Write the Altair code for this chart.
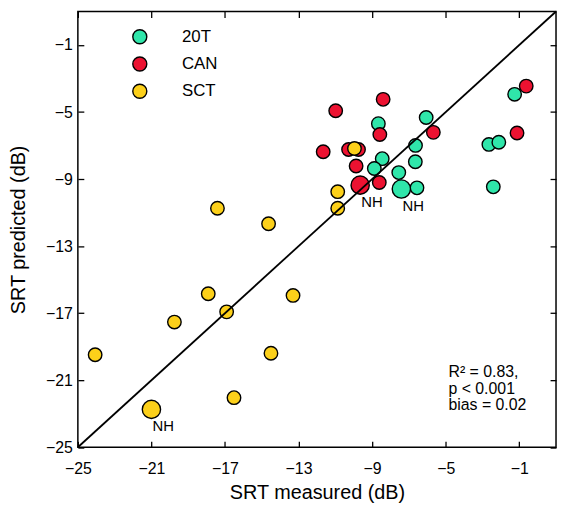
import altair as alt
import pandas as pd

# ---- data ----
legend_names = ["20T", "CAN", "SCT"]
colors = ["#2fe6aa", "#ec1231", "#fcd01a"]

t20_measured = [-6.06, -8.66, -6.64, -8.45, -6.65, -8.88, -7.55, -6.56, -7.41, -1.25, -2.65, -2.11, -2.41]
t20_predicted = [-5.32, -5.69, -6.99, -7.78, -7.96, -8.37, -8.61, -9.52, -9.59, -3.94, -6.93, -6.80, -9.46]
t20_nh = [0, 0, 0, 0, 0, 0, 0, 0, 1, 0, 0, 0, 0]

can_measured = [-0.62, -1.12, -8.40, -10.98, -8.58, -5.67, -11.66, -10.28, -9.74, -9.87, -9.65, -8.61]
can_predicted = [-3.45, -6.25, -4.24, -4.92, -6.34, -6.21, -7.37, -7.23, -7.23, -8.22, -9.36, -9.20]
can_nh = [0, 0, 0, 0, 0, 0, 0, 0, 0, 0, 1, 0]

sct_measured = [-9.96, -10.87, -10.87, -17.41, -14.63, -17.91, -13.30, -16.91, -19.75, -24.06, -14.50, -16.51, -21.00]
sct_predicted = [-7.17, -9.75, -10.74, -10.74, -11.66, -15.84, -15.94, -16.92, -17.53, -19.48, -19.39, -22.04, -22.74]
sct_nh = [0, 0, 0, 0, 0, 0, 0, 0, 0, 0, 0, 0, 1]

diag = [-25, 1]
ticks = [-25, -21, -17, -13, -9, -5, -1]
axis_domain = [-25, 1]

stats_lines = ["R² = 0.83,", "p < 0.001", "bias = 0.02"]
stats_x = [-4.85, -4.85, -4.85]
stats_y = [-20.79, -21.81, -22.80]

# ---- tables ----
df = pd.DataFrame({
    "group": ["20T"] * len(t20_measured) + ["CAN"] * len(can_measured) + ["SCT"] * len(sct_measured),
    "measured": t20_measured + can_measured + sct_measured,
    "predicted": t20_predicted + can_predicted + sct_predicted,
    "nh": t20_nh + can_nh + sct_nh,
})
df_nh = df[df["nh"] == 1]
df_diag = pd.DataFrame({"d": diag})
df_stats = pd.DataFrame({"line": stats_lines, "sx": stats_x, "sy": stats_y})

FONT = "Liberation Sans"
xs = alt.Scale(domain=axis_domain, nice=False, zero=False)
ys = alt.Scale(domain=axis_domain, nice=False, zero=False)

def tick_axis(orient):
    return alt.Axis(orient=orient, values=ticks, offset=-6, tickSize=6, tickWidth=1.3,
                    tickColor="black", labels=False, domain=False, grid=False, title=None)

points = alt.Chart(df).mark_circle(stroke="black", strokeWidth=1.4, opacity=1).encode(
    x=alt.X("measured:Q", scale=xs,
            axis=alt.Axis(orient="bottom", values=ticks, offset=-6, tickSize=6, tickWidth=1.3,
                          tickColor="black", domain=False, grid=False, labelFlush=False,
                          labelPadding=13, labelFontSize=16, labelFont=FONT, labelColor="black",
                          title="SRT measured (dB)", titleFontSize=20, titleFont=FONT,
                          titleFontWeight="normal", titleColor="black", titlePadding=7)),
    y=alt.Y("predicted:Q", scale=ys,
            axis=alt.Axis(orient="left", values=ticks, offset=-6, tickSize=6, tickWidth=1.3,
                          tickColor="black", domain=False, grid=False, labelFlush=False,
                          labelPadding=5.5, labelFontSize=16, labelFont=FONT, labelColor="black",
                          title="SRT predicted (dB)", titleFontSize=20, titleFont=FONT,
                          titleFontWeight="normal", titleColor="black", titlePadding=17)),
    fill=alt.Fill("group:N", scale=alt.Scale(domain=legend_names, range=colors),
                  legend=alt.Legend(orient="none", legendX=54, legendY=17, title=None,
                                    symbolType="circle", symbolSize=200,
                                    symbolStrokeColor="black", symbolStrokeWidth=1.4,
                                    symbolOpacity=1, labelFontSize=17, labelFont=FONT,
                                    labelColor="black", labelOffset=34, rowPadding=6.5,
                                    padding=0)),
    size=alt.Size("nh:Q", scale=alt.Scale(domain=[0, 1], range=[185, 340]), legend=None),
)

line = alt.Chart(df_diag).mark_line(color="black", strokeWidth=1.8).encode(
    x=alt.X("d:Q", scale=xs, axis=None),
    y=alt.Y("d:Q", scale=ys, axis=None),
)

nh_labels = alt.Chart(df_nh).mark_text(dx=12, dy=17, fontSize=15, font=FONT, color="black").encode(
    x=alt.X("measured:Q", scale=xs, axis=tick_axis("top")),
    y=alt.Y("predicted:Q", scale=ys, axis=tick_axis("right")),
    text=alt.value("NH"),
)

stats = alt.Chart(df_stats).mark_text(align="left", baseline="alphabetic", fontSize=16,
                                      font=FONT, color="black").encode(
    x=alt.X("sx:Q", scale=xs, axis=None),
    y=alt.Y("sy:Q", scale=ys, axis=None),
    text="line:N",
)

chart = alt.layer(points, line, nh_labels, stats).resolve_scale(
    x="independent", y="independent"
).resolve_axis(
    x="independent", y="independent"
).properties(
    width=482.5, height=439.7,
    autosize=alt.AutoSizeParams(type="none"),
    padding={"left": 70.5, "top": 1.3, "right": 2, "bottom": 56},
    background="white",
).configure_view(stroke="black", strokeWidth=1.5)

chart.save("out.html", embed_options={"renderer": "svg", "actions": False})
